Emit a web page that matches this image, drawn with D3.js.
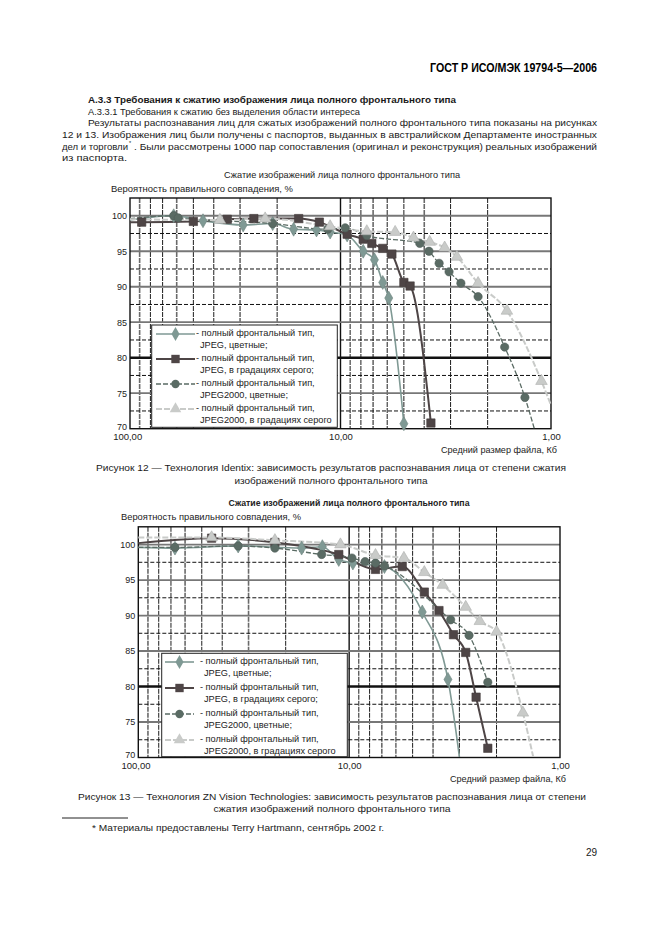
<!DOCTYPE html>
<html>
<head>
<meta charset="utf-8">
<script src="https://cdn.jsdelivr.net/npm/d3@7"></script>
<style>
body { margin: 0; background: #fff; }
svg { display: block; font-family: "Liberation Sans", Arial, sans-serif; }
</style>
</head>
<body>
<svg id="page" width="661" height="936"></svg>
<script>
// axis ticks
var sizeTicks = [100, 10, 1];
var sizeLabels = ['100,00', '10,00', '1,00'];
var pctTicks = [70, 75, 80, 85, 90, 95, 100];

var legendNames = [
    'JPEG, цветные;',
    'JPEG, в градациях серого;',
    'JPEG2000, цветные;',
    'JPEG2000, в градациях серого'
];

// Figure 12 (Identix): [file size Kb, match %, draw marker]
var f12JpegColor = [[100, 99.4, 0], [62, 100.0, 1], [45, 99.3, 1], [29, 98.7, 1], [21, 98.9, 1], [16.7, 98.1, 1],
    [13, 98.0, 1], [11.2, 97.7, 1], [9.3, 97.3, 1], [7.8, 95.0, 1], [6.9, 93.8, 1], [6.3, 90.6, 1], [5.9, 88.4, 1], [5.0, 70.7, 1]];
var f12JpegGray = [[100, 99.1, 0], [88, 99.1, 1], [50, 99.2, 1], [34.5, 99.5, 1], [25.8, 99.6, 1], [15.8, 99.6, 1],
    [12.6, 99.1, 1], [9.3, 97.4, 1], [7.8, 96.7, 1], [7.1, 96.1, 1], [6.3, 95.4, 1], [5.7, 94.6, 1], [5.0, 90.6, 1],
    [4.67, 90.1, 1], [3.72, 70.8, 1]];
var f12J2kColor = [[100, 99.6, 0], [62, 100.0, 1], [59, 99.7, 1], [21, 98.9, 1], [11.5, 98.1, 1], [9.5, 98.3, 1],
    [7.5, 97.2, 1], [4.2, 96.1, 1], [3.8, 95.0, 1], [3.4, 93.3, 1], [3.05, 92.1, 1], [2.68, 90.5, 1], [2.22, 88.6, 1],
    [1.66, 81.5, 1], [1.33, 74.4, 1], [1.2, 70, 0]];
var f12J2kGray = [[100, 99.5, 0], [37.4, 99.4, 1], [22.8, 99.6, 1], [11.2, 98.5, 1], [7.5, 97.8, 1], [5.5, 97.7, 1],
    [4.5, 96.9, 1], [3.77, 96.3, 1], [3.2, 95.5, 1], [2.8, 94.2, 1], [2.22, 90.5, 1], [1.62, 86.6, 1], [1.11, 76.7, 1],
    [1.0, 73.3, 0]];

// Figure 13 (ZN Vision)
var f13JpegColor = [[100, 99.6, 0], [67, 99.5, 1], [33.6, 99.8, 1], [16.8, 99.5, 1], [13.4, 99.7, 1], [11.2, 97.9, 1],
    [9.6, 97.4, 1], [6.8, 96.9, 1], [4.5, 90.5, 1], [3.4, 81.0, 1], [3.0, 70.1, 0]];
var f13JpegGray = [[100, 100.2, 0], [44.9, 100.9, 1], [22.5, 100.3, 1], [11.2, 98.6, 1], [7.5, 96.5, 1], [5.6, 96.9, 1],
    [4.4, 93.3, 1], [3.75, 90.7, 1], [3.2, 87.3, 1], [2.8, 84.8, 1], [2.5, 78.5, 1], [2.2, 71.3, 1]];
var f13J2kColor = [[100, 99.6, 0], [67, 99.6, 1], [33.6, 99.8, 1], [22.5, 99.5, 1], [13.5, 98.6, 1], [9.7, 98.1, 1],
    [8.4, 97.6, 1], [7.5, 97.4, 1], [6.8, 97.0, 1], [3.3, 89.4, 1], [2.7, 87.2, 1], [2.2, 80.6, 1]];
var f13J2kGray = [[100, 101.0, 0], [44.9, 101.0, 1], [22.5, 100.6, 1], [11, 100.0, 1], [7.5, 98.5, 1], [5.5, 98.1, 1],
    [4.4, 96.1, 1], [3.6, 94.3, 1], [2.8, 91.2, 1], [2.4, 89.2, 1], [2.0, 87.7, 1], [1.5, 76.3, 1], [1.34, 70.1, 0]];

var styles = [
    { color: '#7f9994', symbol: d3.symbolDiamond, size: 56, width: 1.6, dash: null },
    { color: '#4e4546', symbol: d3.symbolSquare, size: 70, width: 2, dash: null },
    { color: '#5a6b64', symbol: d3.symbolCircle, size: 54, width: 1.3, dash: '5,2' },
    { color: '#c9cbc9', symbol: d3.symbolTriangle, size: 58, width: 2, dash: '6,2' }
];

var svg = d3.select('#page');

// page text
function text(x, y, str, opt) {
    opt = opt || {};
    var t = svg.append('text')
        .attr('x', x).attr('y', y)
        .attr('font-size', opt.size || 9.6)
        .attr('fill', opt.fill || '#1a1a1a')
        .attr('text-anchor', opt.anchor || 'start')
        .text(str);
    if (opt.bold) t.attr('font-weight', 'bold');
    if (opt.len) t.attr('textLength', opt.len).attr('lengthAdjust', 'spacingAndGlyphs');
    return t;
}

text(597, 72, 'ГОСТ Р ИСО/МЭК 19794-5—2006', { size: 12, bold: true, anchor: 'end', len: 167, fill: '#000' });
text(88, 103, 'А.3.3 Требования к сжатию изображения лица полного фронтального типа', { bold: true, len: 368, size: 9.8 });
text(88, 114.5, 'А.3.3.1 Требования к сжатию без выделения области интереса', { len: 272 });
text(88, 126, 'Результаты распознавания лиц для сжатых изображений полного фронтального типа показаны на рисунках', { len: 509 });
text(62, 138, '12 и 13. Изображения лиц были получены с паспортов, выданных в австралийском Департаменте иностранных', { len: 535 });
text(62, 149.5, 'дел и торговли', { len: 66 });
text(129, 145, '*', { size: 5.5 });
text(134, 149.5, '. Были рассмотрены 1000 пар сопоставления (оригинал и реконструкция) реальных изображений', { len: 463 });
text(62, 161, 'из паспорта.', { len: 65 });

text(331, 471, 'Рисунок 12 — Технология Identix: зависимость результатов распознавания лица от степени сжатия', { anchor: 'middle', len: 470 });
text(331, 484, 'изображений полного фронтального типа', { anchor: 'middle', len: 193 });
text(332, 800, 'Рисунок 13 — Технология ZN Vision Technologies: зависимость результатов распознавания лица от степени', { anchor: 'middle', len: 508 });
text(332, 812, 'сжатия изображений полного фронтального типа', { anchor: 'middle', len: 237 });
svg.append('line').attr('x1', 62).attr('x2', 128).attr('y1', 818).attr('y2', 818).attr('stroke', '#222').attr('stroke-width', 1);
text(92, 831, '* Материалы предоставлены Terry Hartmann, сентябрь 2002 г.', { size: 9, len: 292 });
text(597, 856, '29', { anchor: 'end', size: 10 });

function drawChart(box, series, legend) {
    var g = svg.append('g');
    var x = d3.scaleLog().domain([100, 1]).range([box.left, box.right]);
    var y = d3.scaleLinear().domain([70, 102.5]).range([box.bottom, box.top]);

    // minor vertical grid lines
    var minor = d3.range(20, 100, 10).concat(d3.range(2, 10));
    g.selectAll('.vminor').data(minor).enter().append('line')
        .attr('x1', function (d) { return x(d); }).attr('x2', function (d) { return x(d); })
        .attr('y1', box.top).attr('y2', box.bottom)
        .attr('stroke', function (d, i) { return i % 3 === 1 ? '#6a6a6a' : '#1e1e1e'; })
        .attr('stroke-width', function (d, i) { return i % 3 === 1 ? 1.6 : 1; })
        .attr('stroke-dasharray', '5,1');
    g.append('line').attr('x1', x(10)).attr('x2', x(10)).attr('y1', box.top).attr('y2', box.bottom)
        .attr('stroke', '#111').attr('stroke-width', 1.4);

    // horizontal grid
    var half = d3.range(72.5, 102.5, 5);
    g.selectAll('.hminor').data(half).enter().append('line')
        .attr('x1', box.left).attr('x2', box.right)
        .attr('y1', function (d) { return y(d); }).attr('y2', function (d) { return y(d); })
        .attr('stroke', '#111').attr('stroke-width', 1).attr('stroke-dasharray', '4,2');
    g.selectAll('.hmajor').data(pctTicks.slice(1)).enter().append('line')
        .attr('x1', box.left).attr('x2', box.right)
        .attr('y1', function (d) { return y(d); }).attr('y2', function (d) { return y(d); })
        .attr('stroke', function (d) { return d === 80 ? '#111' : '#777'; })
        .attr('stroke-width', function (d) { return d === 80 ? 2.6 : 1.8; });

    g.append('rect').attr('x', box.left).attr('y', box.top)
        .attr('width', box.right - box.left).attr('height', box.bottom - box.top)
        .attr('fill', 'none').attr('stroke', '#111').attr('stroke-width', 1.4);

    // axes
    var yAxis = d3.axisLeft(y).tickValues(pctTicks).tickSize(0).tickPadding(3);
    g.append('g').attr('transform', 'translate(' + box.left + ',0)').call(yAxis)
        .call(function (a) { a.select('.domain').remove(); })
        .selectAll('text').attr('font-size', 9).attr('fill', '#222')
        .attr('font-family', '"Liberation Sans", Arial, sans-serif')
        .attr('dy', function (d) { return d === 70 ? '0.05em' : '0.32em'; });
    var xAxis = d3.axisBottom(x).tickValues(sizeTicks).tickSize(0).tickPadding(5)
        .tickFormat(function (d, i) { return sizeLabels[i]; });
    g.append('g').attr('transform', 'translate(0,' + box.bottom + ')').call(xAxis)
        .call(function (a) { a.select('.domain').remove(); })
        .selectAll('text').attr('font-size', 9.5).attr('fill', '#222')
        .attr('font-family', '"Liberation Sans", Arial, sans-serif')
        .attr('dx', function (d) { return d === 100 ? '-0.3em' : 0; });

    // series
    var line = d3.line()
        .x(function (d) { return x(d[0]); })
        .y(function (d) { return y(d[1]); })
        .curve(d3.curveMonotoneX);
    series.forEach(function (data, i) {
        var st = styles[i];
        g.append('path').datum(data).attr('d', line)
            .attr('fill', 'none').attr('stroke', st.color).attr('stroke-width', st.width)
            .attr('stroke-dasharray', st.dash);
    });
    series.forEach(function (data, i) {
        var st = styles[i];
        g.selectAll('.m' + i).data(data.filter(function (d) { return d[2]; })).enter().append('path')
            .attr('d', d3.symbol().type(st.symbol).size(st.size))
            .attr('transform', function (d) { return 'translate(' + x(d[0]) + ',' + y(d[1]) + ')'; })
            .attr('fill', st.color).attr('stroke', d3.color(st.color).darker(0.4)).attr('stroke-width', 0.6);
    });

    // legend
    g.append('rect').attr('x', legend.x).attr('y', legend.y).attr('width', legend.w).attr('height', legend.h)
        .attr('fill', '#fff').attr('stroke', '#222').attr('stroke-width', 1);
    legendNames.forEach(function (name, i) {
        var st = styles[i];
        var cy = legend.rows[i];
        g.append('line').attr('x1', legend.l1).attr('x2', legend.l2).attr('y1', cy).attr('y2', cy)
            .attr('stroke', st.color).attr('stroke-width', st.width).attr('stroke-dasharray', st.dash);
        g.append('path').attr('d', d3.symbol().type(st.symbol).size(st.size)())
            .attr('transform', 'translate(' + ((legend.l1 + legend.l2) / 2) + ',' + cy + ')')
            .attr('fill', st.color);
        g.append('text').attr('x', legend.tx).attr('y', cy + 2).attr('font-size', 9.2).attr('fill', '#222')
            .text('- полный фронтальный тип,');
        g.append('text').attr('x', legend.tx + 4).attr('y', cy + 13.5).attr('font-size', 9.2).attr('fill', '#222')
            .text(name);
    });

    // titles
    text(box.titleX, box.titleY, 'Сжатие изображений лица полного фронтального типа',
        { anchor: 'middle', size: 9.2, len: box.titleLen, bold: box.bold, fill: '#222' });
    text(box.yTitleX, box.titleY + 14, 'Вероятность правильного совпадения, %',
        { size: 9.4, len: box.yTitleLen, fill: '#222' });
    text(box.right + 6, box.bottom + 24, 'Средний размер файла, Кб',
        { anchor: 'end', size: 9.2, len: 116, fill: '#222' });
}

drawChart(
    { left: 130, right: 551, top: 198, bottom: 428.7, titleX: 342, titleY: 178, titleLen: 236,
      yTitleX: 111, yTitleLen: 182, bold: false },
    [f12JpegColor, f12JpegGray, f12J2kColor, f12J2kGray],
    { x: 151.7, y: 325, w: 185.6, h: 102.3, l1: 156, l2: 195, tx: 196, rows: [334, 359, 384, 409] }
);
drawChart(
    { left: 138.3, right: 560, top: 526.8, bottom: 757.5, titleX: 349, titleY: 506, titleLen: 241,
      yTitleX: 121, yTitleLen: 180, bold: true },
    [f13JpegColor, f13JpegGray, f13J2kColor, f13J2kGray],
    { x: 161.7, y: 653.3, w: 185.6, h: 103.4, l1: 165, l2: 194, tx: 200, rows: [662, 688, 714, 740] }
);
</script>
</body>
</html>
